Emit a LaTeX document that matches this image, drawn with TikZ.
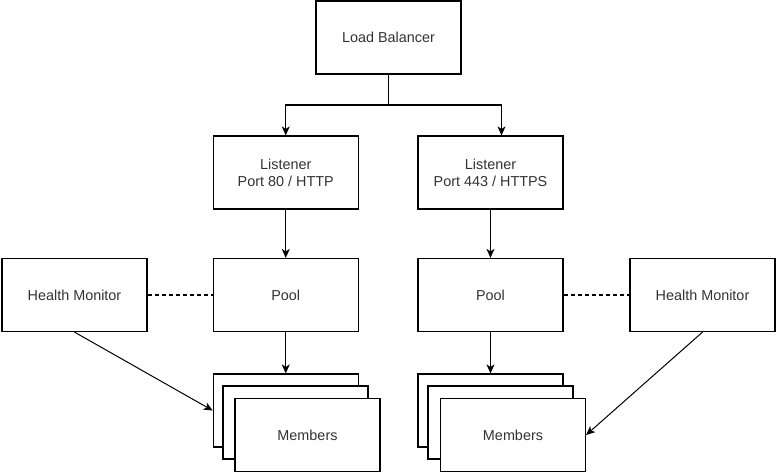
\documentclass[tikz,border=0pt]{standalone}
\usepackage{fontspec}
\setmainfont{Liberation Sans}
\usetikzlibrary{arrows.meta}
\begin{document}
\begin{tikzpicture}[x=1pt,y=-1pt,
  box/.style={draw=black,line width=1.2pt,fill=white,minimum width=145pt,minimum height=73pt,inner sep=0pt,align=center,text=black!80,font=\fontsize{14.4}{17}\selectfont},
  conn/.style={draw=black,line width=1.2pt,-{Stealth[length=9pt,width=8pt,inset=2.5pt]}},
  dashconn/.style={draw=black,line width=1.2pt,dashed,dash pattern=on 4pt off 3pt}]
\useasboundingbox (0,0) rectangle (777,474);
\node[box] (lb) at (388.5,37.5) {Load Balancer};
\node[box] (ll) at (285.75,172.5) {Listener\\Port 80 / HTTP};
\node[box] (lr) at (490.5,172.5) {Listener\\Port 443 / HTTPS};
\node[box] (pl) at (285.75,295) {Pool};
\node[box] (pr) at (490.5,295) {Pool};
\node[box] (hl) at (74.5,295) {Health Monitor};
\node[box] (hr) at (702.5,295) {Health Monitor};
\node[box] (mlb) at (285.75,410.5) {};
\node[box] (mlm) at (295.5,422.5) {};
\node[box] (mlf) at (307.5,435) {Members};
\node[box] (mrb) at (490.5,410.5) {};
\node[box] (mrm) at (500.5,422.5) {};
\node[box] (mrf) at (513,435) {Members};
\coordinate (j) at (388.5,105);
\coordinate (jr) at (501.5,105);
\draw[line width=1.2pt] (lb.south) -- (j);
\draw[conn] (j) -| (ll.north);
\draw[conn] (j) -- (jr) -- (jr |- lr.north);
\draw[conn] (ll) -- (pl);
\draw[conn] (lr) -- (pr);
\draw[conn] (pl) -- (mlb);
\draw[conn] (pr) -- (mrb);
\draw[dashconn] (hl) -- (pl);
\draw[dashconn] (pr) -- (hr);
\draw[conn,line width=1pt] (hl.south) -- (mlb.west);
\draw[conn,line width=1pt] (hr.south) -- (mrf.east);
\end{tikzpicture}
\end{document}
